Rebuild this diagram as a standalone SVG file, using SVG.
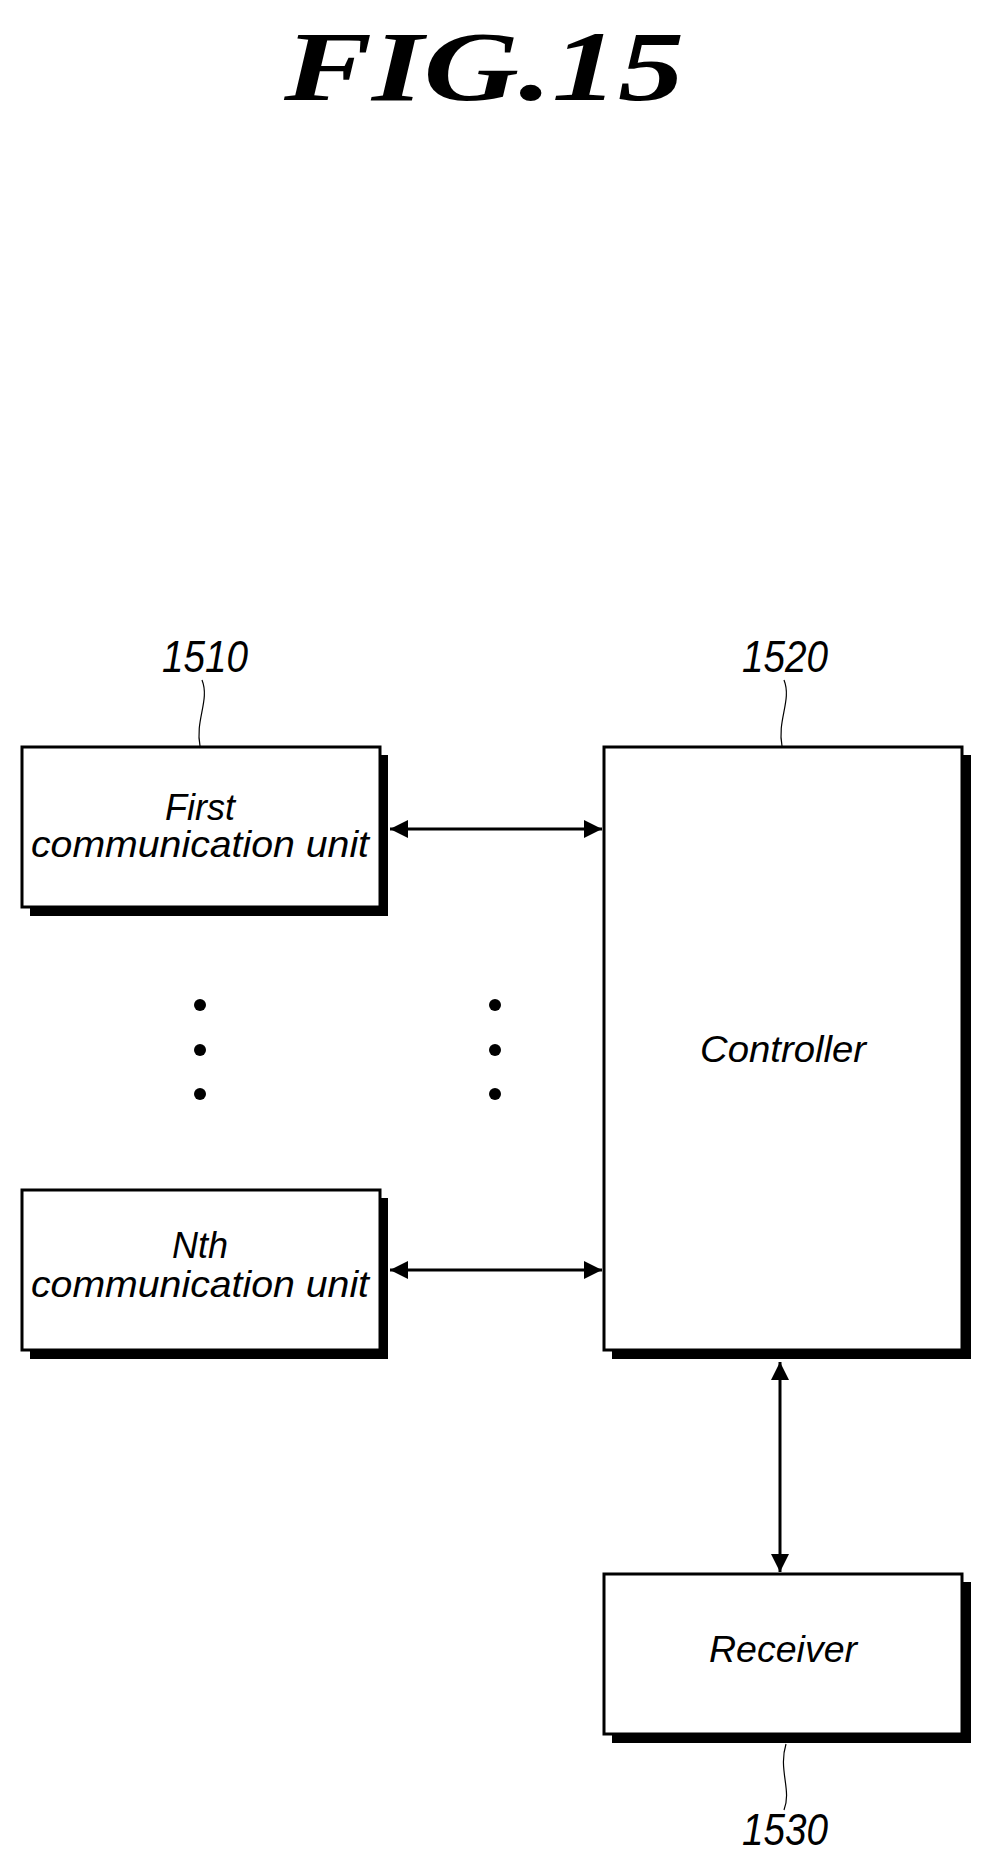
<svg xmlns="http://www.w3.org/2000/svg" width="987" height="1859" viewBox="0 0 987 1859">
<style>
.t{font-family:"Liberation Sans",Arial,sans-serif;font-style:italic;font-size:36px;fill:#000;text-anchor:middle}
.n{font-family:"Liberation Sans",Arial,sans-serif;font-style:italic;font-size:44px;fill:#000;text-anchor:middle}
.box{fill:#fff;stroke:#000;stroke-width:3}
.sh{fill:#000}
.ld{fill:none;stroke:#000;stroke-width:1.2}
.c{stroke:#000;stroke-width:3;fill:none;marker-start:url(#a);marker-end:url(#a)}
</style>
<defs>
<marker id="a" viewBox="0 0 10 10" refX="10" refY="5" markerWidth="10" markerHeight="6" orient="auto-start-reverse" markerUnits="strokeWidth"><path d="M0,0L10,5L0,10z" fill="#000"/></marker>
</defs>
<text x="484" y="100" font-family="Liberation Serif,serif" font-style="italic" font-weight="bold" font-size="100" text-anchor="middle" textLength="400" lengthAdjust="spacingAndGlyphs">FIG.15</text>
<g id="n1510">
<rect class="sh" x="30" y="755" width="358" height="161"/>
<rect class="box" x="22" y="747" width="358" height="160"/>
<text class="t" x="200" y="820">First</text>
<text class="t" x="200" y="857" textLength="338" lengthAdjust="spacingAndGlyphs">communication unit</text>
<text class="n" x="205" y="672" textLength="86" lengthAdjust="spacingAndGlyphs">1510</text>
<path class="ld" d="M202,680 C210,700 195,720 200,746"/>
</g>
<g id="nN">
<rect class="sh" x="30" y="1198" width="358" height="161"/>
<rect class="box" x="22" y="1190" width="358" height="160"/>
<text class="t" x="200" y="1258">Nth</text>
<text class="t" x="200" y="1297" textLength="338" lengthAdjust="spacingAndGlyphs">communication unit</text>
</g>
<g id="n1520">
<rect class="sh" x="612" y="755" width="359" height="604"/>
<rect class="box" x="604" y="747" width="358" height="603"/>
<text class="t" x="783" y="1062" textLength="166" lengthAdjust="spacingAndGlyphs">Controller</text>
<text class="n" x="785" y="672" textLength="86" lengthAdjust="spacingAndGlyphs">1520</text>
<path class="ld" d="M784,680 C792,700 777,720 782,746"/>
</g>
<g id="n1530">
<rect class="sh" x="612" y="1582" width="359" height="161"/>
<rect class="box" x="604" y="1574" width="358" height="160"/>
<text class="t" x="783" y="1662" textLength="148" lengthAdjust="spacingAndGlyphs">Receiver</text>
<text class="n" x="785" y="1845" textLength="86" lengthAdjust="spacingAndGlyphs">1530</text>
<path class="ld" d="M786,1744 C778,1770 792,1790 784,1810"/>
</g>
<g id="dots" fill="#000">
<circle cx="200" cy="1005" r="6"/><circle cx="200" cy="1050" r="6"/><circle cx="200" cy="1094" r="6"/>
<circle cx="495" cy="1005" r="6"/><circle cx="495" cy="1050" r="6"/><circle cx="495" cy="1094" r="6"/>
</g>
<g id="connectors">
<line class="c" x1="390" y1="829" x2="602" y2="829"/>
<line class="c" x1="390" y1="1270" x2="602" y2="1270"/>
<line class="c" x1="780" y1="1362" x2="780" y2="1572"/>
</g>
</svg>
